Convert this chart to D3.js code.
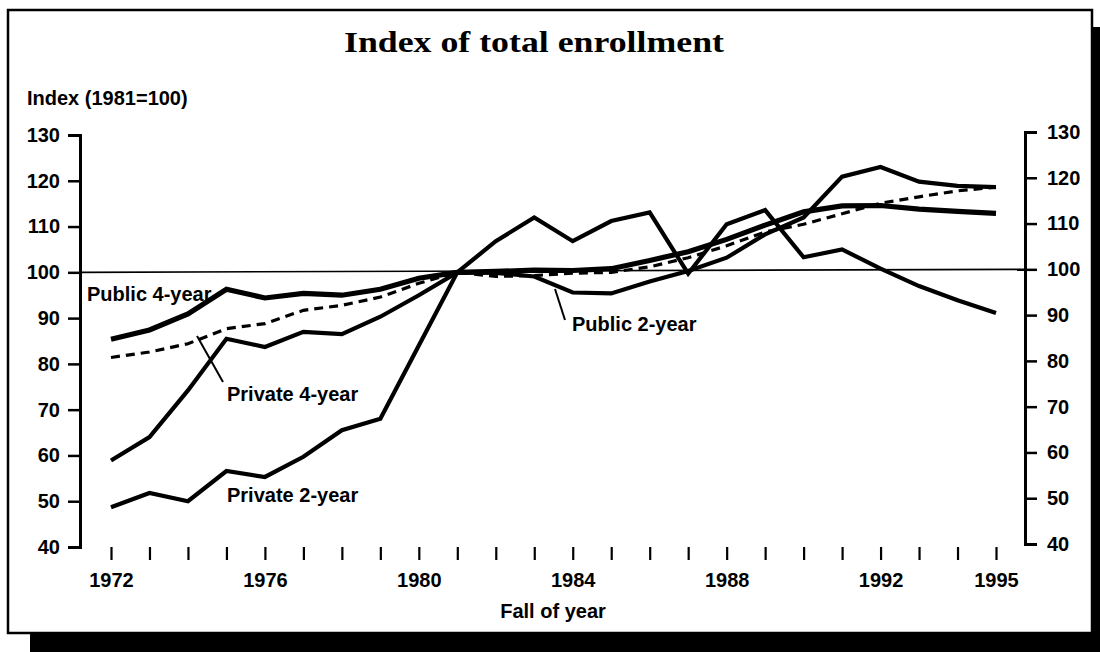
<!DOCTYPE html>
<html>
<head>
<meta charset="utf-8">
<script src="https://cdn.jsdelivr.net/npm/d3@7"></script>
<style>
  html, body { margin: 0; padding: 0; background: #fff; }
  svg { display: block; }
  .lbl { font-family: "Liberation Sans", Arial, sans-serif; font-weight: bold; font-size: 20px; fill: #000; }
</style>
</head>
<body>
<svg id="chart" width="1100" height="652"></svg>
<script>
// Fall enrollment index by sector (1981 = 100)
const years = [1972, 1973, 1974, 1975, 1976, 1977, 1978, 1979, 1980, 1981, 1982, 1983,
               1984, 1985, 1986, 1987, 1988, 1989, 1990, 1991, 1992, 1993, 1994, 1995];
const public4 = [85.4, 87.4, 90.9, 96.3, 94.4, 95.4, 95.0, 96.3, 98.7, 100, 100.2, 100.5,
                 100.4, 100.8, 102.6, 104.5, 107.2, 110.3, 113.2, 114.5, 114.6, 113.8, 113.3, 112.9];
const private4 = [81.4, 82.6, 84.4, 87.7, 88.8, 91.7, 92.8, 94.6, 97.6, 100, 99.1, 99.3,
                  99.8, 100.0, 101.2, 103.2, 105.8, 108.8, 110.5, 112.8, 115.1, 116.5, 117.8, 118.6];
const public2 = [58.9, 64.0, 74.2, 85.5, 83.7, 87.0, 86.5, 90.3, 95.0, 100, 99.9, 99.1,
                 95.6, 95.4, 98.0, 100.3, 103.2, 108.3, 112.0, 120.9, 123.0, 119.8, 118.9, 118.6];
const private2 = [48.7, 51.8, 50.0, 56.6, 55.3, 59.7, 65.5, 68.0, 84.0, 100, 106.8, 112.0,
                  106.8, 111.2, 113.1, 99.7, 110.5, 113.6, 103.3, 105.0, 100.8, 97.0, 93.9, 91.1];
const yTicks = [40, 50, 60, 70, 80, 90, 100, 110, 120, 130];
const yearLabels = [1972, 1976, 1980, 1984, 1988, 1992, 1995];
const baseIndex = 100;

const svg = d3.select("#chart");

// Framed panel with a drop shadow
svg.append("rect").attr("x", 30).attr("y", 634).attr("width", 1070).attr("height", 18).attr("fill", "#000");
svg.append("rect").attr("x", 1092).attr("y", 27).attr("width", 8).attr("height", 625).attr("fill", "#000");
svg.append("rect").attr("x", 8).attr("y", 10).attr("width", 1084).attr("height", 623)
  .attr("fill", "#fff").attr("stroke", "#000").attr("stroke-width", 2.5);

const x = d3.scaleLinear().domain([1972, 1995]).range([111, 996]);
const yL = d3.scaleLinear().domain([40, 130]).range([547, 135]);
const yR = d3.scaleLinear().domain([40, 130]).range([544, 132]);

// Title
svg.append("text")
  .attr("x", 534).attr("y", 52)
  .attr("text-anchor", "middle")
  .attr("font-family", "'Liberation Serif', 'Times New Roman', serif")
  .attr("font-weight", "bold")
  .attr("font-size", 30)
  .attr("textLength", 380)
  .attr("lengthAdjust", "spacingAndGlyphs")
  .text("Index of total enrollment");

svg.append("text").attr("class", "lbl")
  .attr("x", 27).attr("y", 105)
  .text("Index (1981=100)");

// Left value axis
const axL = svg.append("g").attr("transform", "translate(80,0)")
  .call(d3.axisLeft(yL).tickValues(yTicks).tickSize(12).tickPadding(8));
// Right value axis
const axR = svg.append("g").attr("transform", "translate(1025,0)")
  .call(d3.axisRight(yR).tickValues(yTicks).tickSize(12).tickPadding(10));

[axL, axR].forEach(g => {
  g.select(".domain").attr("stroke", "#000").attr("stroke-width", 3);
  g.selectAll(".tick line").attr("stroke", "#000").attr("stroke-width", 2.5);
  g.selectAll(".tick text").attr("class", "lbl").attr("fill", "#000");
});

// Year ticks (no baseline)
const axX = svg.append("g").attr("transform", "translate(0,547)")
  .call(d3.axisBottom(x).tickValues(years).tickSize(13).tickPadding(13)
    .tickFormat(d => yearLabels.includes(d) ? String(d) : ""));
axX.select(".domain").remove();
axX.selectAll(".tick line").attr("stroke", "#000").attr("stroke-width", 2.2);
axX.selectAll(".tick text").attr("class", "lbl").attr("fill", "#000");

svg.append("text").attr("class", "lbl")
  .attr("x", 553).attr("y", 618).attr("text-anchor", "middle")
  .text("Fall of year");

// Reference line at the base year level
svg.append("line")
  .attr("x1", 80).attr("x2", 1025)
  .attr("y1", yL(baseIndex)).attr("y2", yR(baseIndex))
  .attr("stroke", "#000").attr("stroke-width", 1.6);

const line = vals => d3.line()
  .x((d, i) => x(years[i]))
  .y(d => yL(d))(vals);

const series = [
  { vals: private2, w: 4.2, dash: null },
  { vals: public2, w: 4.2, dash: null },
  { vals: private4, w: 3.2, dash: "9,6" },
  { vals: public4, w: 5.2, dash: null }
];
series.forEach(s => {
  svg.append("path")
    .attr("d", line(s.vals))
    .attr("fill", "none")
    .attr("stroke", "#000")
    .attr("stroke-width", s.w)
    .attr("stroke-linejoin", "miter")
    .attr("stroke-dasharray", s.dash);
});

// Series labels and leader lines
svg.append("text").attr("class", "lbl").attr("x", 87).attr("y", 301).text("Public 4-year");
svg.append("text").attr("class", "lbl").attr("x", 227).attr("y", 401).text("Private 4-year");
svg.append("text").attr("class", "lbl").attr("x", 227).attr("y", 502).text("Private 2-year");
svg.append("text").attr("class", "lbl").attr("x", 572).attr("y", 331).text("Public 2-year");

svg.append("line").attr("x1", 197).attr("y1", 336).attr("x2", 223).attr("y2", 382)
  .attr("stroke", "#000").attr("stroke-width", 2);
svg.append("line").attr("x1", 555).attr("y1", 289).attr("x2", 565).attr("y2", 320)
  .attr("stroke", "#000").attr("stroke-width", 2);
</script>
</body>
</html>
